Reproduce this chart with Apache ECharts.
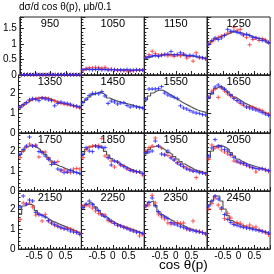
<!DOCTYPE html>
<html><head><meta charset="utf-8">
<script src="https://cdn.jsdelivr.net/npm/echarts@6/dist/echarts.min.js"></script>
<style>html,body{margin:0;padding:0;background:#fff}#c{width:274px;height:274px}</style>
</head><body><div id="c"></div>
<script>
// ---- data ----
const energies = [950,1050,1150,1250,1350,1450,1550,1650,1750,1850,1950,2050,2150,2250,2350,2450];
const binCenters = [-0.95,-0.85,-0.75,-0.65,-0.55,-0.45,-0.35,-0.25,-0.15,-0.05,0.05,0.15,0.25,0.35,0.45,0.55,0.65,0.75,0.85,0.95];
const binEdges = [-1,-0.9,-0.8,-0.7,-0.6,-0.5,-0.4,-0.3,-0.2,-0.1,0,0.1,0.2,0.3,0.4,0.5,0.6,0.7,0.8,0.9,1];
const xTickLabels = ['-0.5','0','0.5'];
const yMaxRow = [1.88, 2.9, 2.9, 2.9];
const yIntervalRow = [0.5, 1, 1, 1];

const h950 = [0.01,0.01,0.01,0.01,0.01,0.01,0.01,0.01,0.01,0.01,0.01,0.01,0.01,0.01,0.01,0.01,0.01,0.01,0.01,0.01];
const b950 = [0.01,0.01,0.02,0.01,0.01,0.02,0.01,0.01,0.01,0.02,0.01,0.01,0.01,0.01,0.02,0.01,0.01,0.01,0.01,0.01];
const r950 = [0.01,0.01,0.01,0.01,0.01,0.01,0.01,0.01,0.01,0.01,0.01,0.01,0.01,0.01,0.01,0.01,0.01,0.01,0.01,0.01];

const h1050 = [0.17,0.18,0.18,0.18,0.18,0.18,0.18,0.18,0.17,0.17,0.17,0.17,0.17,0.17,0.16,0.16,0.16,0.16,0.16,0.16];
const b1050 = [0.17,0.19,0.18,0.17,0.18,0.19,0.17,0.18,0.16,0.18,0.17,0.16,0.17,0.15,0.18,0.16,0.15,0.17,0.16,0.16];
const r1050 = [0.16,0.21,0.24,0.23,0.25,0.24,0.22,0.25,0.19,0.18,0.17,0.15,0.14,0.15,0.13,0.12,0.14,0.15,0.16,0.16];

const h1150 = [0.55,0.58,0.62,0.64,0.64,0.65,0.66,0.66,0.66,0.66,0.65,0.64,0.63,0.62,0.62,0.60,0.58,0.57,0.55,0.52];
const b1150 = [0.56,0.60,0.62,0.63,0.60,0.64,0.66,0.68,0.76,0.65,0.66,0.72,0.67,0.62,0.64,0.63,0.61,0.58,0.56,0.53];
const r1150 = [0.58,0.66,0.77,0.70,0.64,0.65,0.67,0.62,0.64,0.60,0.66,0.62,0.68,0.55,0.60,0.45,0.72,0.56,0.55,0.52];

const h1250 = [1.01,1.10,1.18,1.24,1.27,1.31,1.34,1.39,1.41,1.39,1.37,1.33,1.31,1.26,1.23,1.20,1.18,1.16,1.10,1.03];
const b1250 = [0.99,1.12,1.20,1.15,1.20,1.28,1.48,1.42,1.42,1.38,1.35,1.30,1.32,1.28,1.22,1.20,1.18,1.12,1.10,1.05];
const r1250 = [1.00,1.08,1.15,1.22,1.26,1.30,1.36,1.40,1.55,1.45,1.48,1.30,1.22,0.98,1.15,1.20,1.12,1.18,1.14,1.06];

const h1350 = [1.27,1.40,1.52,1.62,1.70,1.74,1.76,1.77,1.76,1.72,1.66,1.58,1.52,1.48,1.45,1.41,1.38,1.36,1.32,1.27];
const b1350 = [1.30,1.42,1.52,1.66,1.72,1.68,1.62,1.75,1.70,1.66,1.62,1.36,1.48,1.55,1.50,1.48,1.44,1.36,1.34,1.30];
const r1350 = [1.28,1.38,1.50,1.62,1.68,1.72,1.74,1.76,1.75,1.72,1.66,1.60,1.55,1.48,1.45,1.42,1.40,1.36,1.30,1.25];

const h1450 = [1.53,1.66,1.80,1.92,2.00,2.03,1.98,1.88,1.75,1.68,1.62,1.57,1.52,1.48,1.45,1.41,1.36,1.32,1.28,1.24];
const b1450 = [1.52,1.70,1.88,1.98,1.98,1.96,2.07,1.85,1.48,1.60,1.55,1.45,1.50,1.52,1.38,1.30,1.35,1.30,1.27,1.24];
const r1450 = [];

const h1550 = [1.65,1.85,2.00,2.10,2.15,2.13,2.05,1.95,1.85,1.75,1.65,1.55,1.46,1.38,1.30,1.22,1.15,1.10,1.06,1.02];
const b1550 = [1.70,2.20,2.20,2.20,2.22,2.32,2.00,1.90,1.85,1.78,1.72,1.36,1.25,1.20,1.12,1.05,1.00,0.98,0.92,0.90];
const r1550 = [];

const h1650 = [1.73,1.95,2.22,2.32,2.30,2.18,2.05,1.92,1.80,1.70,1.60,1.50,1.42,1.35,1.28,1.20,1.12,1.05,0.98,0.90];
const b1650 = [1.78,2.00,2.30,2.40,2.30,2.20,2.05,1.88,1.72,1.62,1.55,1.45,1.30,1.25,1.20,1.15,1.10,1.02,0.95,0.88];
const r1650 = [1.80,2.10,2.20,1.78,2.25,2.10,1.95,1.85,1.75,1.62,1.48,1.38,1.30,1.32,1.28,1.22,1.18,1.12,1.00,0.95];

const h1750 = [1.83,2.00,2.20,2.30,2.25,2.17,2.08,1.97,1.83,1.67,1.50,1.33,1.25,1.20,1.12,1.07,1.02,0.95,0.90,0.83];
const b1750 = [1.83,2.08,2.25,2.70,2.25,2.25,1.97,1.92,1.75,1.58,1.33,1.42,1.10,1.05,0.92,0.95,1.03,0.95,0.92,0.88];
const r1750 = [1.67,2.00,2.20,2.35,2.25,2.30,1.70,1.95,1.95,1.63,1.45,1.42,1.47,1.00,1.05,0.95,0.92,1.10,1.13,1.10];

const h1850 = [1.83,2.08,2.20,2.25,2.25,2.22,2.13,1.98,1.80,1.62,1.50,1.40,1.30,1.22,1.15,1.08,1.02,0.95,0.90,0.85];
const b1850 = [1.83,2.17,2.00,1.97,2.25,2.17,2.20,2.17,1.67,1.30,1.50,1.45,1.33,1.22,1.15,1.03,1.00,0.97,0.95,0.87];
const r1850 = [1.67,2.08,2.20,2.25,2.25,2.28,2.63,1.75,1.67,1.50,1.20,1.45,1.28,1.25,1.10,1.05,1.00,0.95,0.97,0.80];

const h1950 = [1.87,2.08,2.20,2.25,2.20,2.12,2.03,1.92,1.83,1.72,1.60,1.47,1.35,1.25,1.17,1.07,1.02,0.98,0.93,0.90];
const b1950 = [1.92,1.95,2.00,2.50,2.25,1.85,1.80,2.00,1.65,1.55,1.40,1.30,1.22,1.10,1.05,1.00,0.98,0.92,0.90,0.87];
const r1950 = [2.00,2.17,2.25,2.65,2.25,2.15,1.83,1.78,1.70,1.55,1.42,1.33,1.20,1.15,1.08,1.00,0.67,0.95,0.92,0.85];

const h2050 = [1.65,2.00,2.23,2.28,2.25,2.18,2.08,1.92,1.75,1.60,1.50,1.42,1.35,1.30,1.25,1.20,1.15,1.10,1.05,1.00];
const b2050 = [1.75,2.15,2.57,2.25,2.22,2.08,2.00,1.83,1.67,1.50,1.42,1.38,1.30,1.25,1.17,1.12,1.10,1.12,1.05,1.02];
const r2050 = [1.58,2.30,2.15,2.18,2.05,1.95,1.85,1.78,1.50,1.45,1.40,1.35,1.28,1.20,1.15,0.95,1.12,1.10,1.08,0.98];

const h2150 = [1.73,2.15,2.23,2.23,2.15,1.92,1.75,1.65,1.57,1.48,1.38,1.32,1.25,1.18,1.12,1.05,0.98,0.92,0.85,0.75];
const b2150 = [2.10,2.65,2.25,2.45,2.40,1.83,1.73,1.67,1.60,1.42,1.30,1.22,1.13,1.08,1.02,0.98,0.90,0.85,0.82,0.73];
const r2150 = [1.48,2.30,2.25,2.30,2.10,1.70,1.73,1.40,1.73,1.40,1.30,1.18,1.15,1.05,1.02,1.05,1.00,0.92,0.85,0.78];

const h2250 = [2.05,2.22,2.32,2.25,2.10,1.92,1.75,1.60,1.50,1.38,1.30,1.22,1.15,1.10,1.05,1.00,0.95,0.88,0.82,0.73];
const b2250 = [2.08,2.25,2.40,2.22,2.05,1.92,1.70,1.63,1.50,1.40,1.28,1.20,1.15,1.08,1.02,0.95,0.90,0.85,0.82,0.78];
const r2250 = [2.15,2.20,2.15,2.05,1.90,1.78,1.72,1.70,1.42,1.35,1.28,1.18,1.15,1.10,1.05,0.98,0.92,0.85,0.65,0.73];

const h2350 = [2.18,2.35,2.40,2.18,1.85,1.70,1.60,1.50,1.42,1.33,1.27,1.20,1.13,1.05,1.00,0.95,0.90,0.85,0.80,0.75];
const b2350 = [2.15,2.32,2.55,2.15,1.87,1.72,1.60,1.52,1.32,1.25,1.20,1.12,1.07,1.02,0.95,0.92,0.88,0.85,0.82,0.75];
const r2350 = [2.15,2.20,2.68,2.30,1.75,1.60,1.50,1.30,1.25,1.30,1.32,1.28,1.30,1.00,0.98,1.40,0.90,0.88,0.82,0.75];

const h2450 = [2.20,2.40,2.65,2.65,2.40,2.00,1.67,1.42,1.33,1.25,1.20,1.15,1.10,1.05,1.00,0.97,0.93,0.88,0.82,0.75];
const b2450 = [2.15,2.40,2.65,2.50,2.05,1.72,1.48,1.32,1.22,1.18,1.12,1.08,1.05,1.02,0.98,0.95,0.92,0.88,0.85,0.80];
const r2450 = [2.00,2.28,2.55,2.20,1.98,1.52,1.78,1.55,1.25,1.32,1.28,1.15,1.10,1.20,1.08,1.10,0.95,0.88,0.82,0.72];

const errBlue = [0.01,0.02,0.03,0.04,0.05,0.05,0.05,0.06,0.06,0.06,0.07,0.07,0.07,0.07,0.08,0.08];
const errRed  = [0.01,0.03,0.05,0.06,0.06,0.06,0.06,0.09,0.10,0.10,0.10,0.10,0.11,0.11,0.12,0.12];

const histList = [h950,h1050,h1150,h1250,h1350,h1450,h1550,h1650,h1750,h1850,h1950,h2050,h2150,h2250,h2350,h2450];
const blueList = [b950,b1050,b1150,b1250,b1350,b1450,b1550,b1650,b1750,b1850,b1950,b2050,b2150,b2250,b2350,b2450];
const redList  = [r950,r1050,r1150,r1250,r1350,r1450,r1550,r1650,r1750,r1850,r1950,r2050,r2150,r2250,r2350,r2450];

// ---- layout ----
const L0 = 18.5, T0 = 17, PW = 62.9, PH = 58;
const FONT = 'Liberation Sans, Arial, sans-serif';

const grids = [], xAxes = [], yAxes = [], series = [], graphics = [];

function crossRenderer(color, err, opacity) {
  return function (params, api) {
    const x = api.value(0), y = api.value(1);
    const c = api.coord([x, y]);
    const t = api.coord([x, y + err]);
    const b = api.coord([x, y - err]);
    const half = Math.max(2, (b[1] - t[1]) / 2);
    return {
      type: 'group',
      children: [
        { type: 'line', shape: { x1: c[0] - 2.2, y1: c[1], x2: c[0] + 2.2, y2: c[1] }, style: { stroke: color, lineWidth: 1, opacity: opacity } },
        { type: 'line', shape: { x1: c[0], y1: c[1] - half, x2: c[0], y2: c[1] + half }, style: { stroke: color, lineWidth: 1, opacity: opacity } }
      ]
    };
  };
}

for (let i = 0; i < 16; i++) {
  const row = Math.floor(i / 4), col = i % 4;
  grids.push({ left: L0 + col * PW, top: T0 + row * PH, width: PW, height: PH, show: true, borderColor: '#222', borderWidth: 1, backgroundColor: 'transparent' });
  xAxes.push({
    type: 'value', gridIndex: i, min: -1, max: 1, interval: 0.5,
    axisLine: { show: true, onZero: false, lineStyle: { color: '#222', width: 1 } },
    axisTick: { show: true, inside: true, length: 4, lineStyle: { color: '#222' } },
    minorTick: { show: true, splitNumber: 5, length: 2, lineStyle: { color: '#222' } },
    splitLine: { show: false },
    axisLabel: {
      show: row === 3, showMinLabel: false, showMaxLabel: false, margin: 2,
      fontSize: 10, fontFamily: FONT, color: '#000',
      formatter: function (v) { const k = Math.round((v + 0.5) / 0.5); return xTickLabels[k] !== undefined ? xTickLabels[k] : ''; }
    }
  });
  yAxes.push({
    type: 'value', gridIndex: i, min: 0, max: yMaxRow[row], interval: yIntervalRow[row],
    axisLine: { show: true, onZero: false, lineStyle: { color: '#222', width: 1 } },
    axisTick: { show: true, inside: true, length: 4, lineStyle: { color: '#222' } },
    minorTick: { show: true, splitNumber: 5, length: 2, lineStyle: { color: '#222' } },
    splitLine: { show: false },
    axisLabel: { show: col === 0, showMaxLabel: false, margin: 3, fontSize: 10, fontFamily: FONT, color: '#000' }
  });

  const h = histList[i];
  const stepData = binEdges.map((e, k) => [e, h[Math.min(k, h.length - 1)]]);
  series.push({
    type: 'line', xAxisIndex: i, yAxisIndex: i, step: 'end', symbol: 'none', silent: true,
    data: stepData, lineStyle: { color: '#555', width: 1.2 }, z: 2, animation: false
  });
  const r = redList[i];
  if (r.length) {
    series.push({
      type: 'custom', xAxisIndex: i, yAxisIndex: i, z: 3, animation: false, silent: true,
      renderItem: crossRenderer('#ff2a2a', errRed[i], 0.75),
      data: r.map((v, k) => [binCenters[k], v])
    });
  }
  const b = blueList[i];
  series.push({
    type: 'custom', xAxisIndex: i, yAxisIndex: i, z: 4, animation: false, silent: true,
    renderItem: crossRenderer('#2a2aff', errBlue[i], 0.85),
    data: b.map((v, k) => [binCenters[k], v])
  });

  graphics.push({
    type: 'text', x: L0 + col * PW + PW / 2, y: T0 + row * PH + 1,
    style: { text: String(energies[i]), align: 'center', verticalAlign: 'top', fontSize: 11, fontFamily: FONT, fill: '#000' }, z: 10
  });
}

graphics.push({ type: 'text', x: 19, y: 2, style: { text: 'dσ/d cos θ(p), μb/0.1', fontSize: 10, fontFamily: FONT, fill: '#000' } });
graphics.push({ type: 'text', x: 159, y: 258, style: { text: 'cos θ(p)', fontSize: 13.5, fontFamily: FONT, fill: '#000' } });

const chart = echarts.init(document.getElementById('c'), null, { renderer: 'canvas' });
chart.setOption({
  animation: false,
  backgroundColor: '#fff',
  grid: grids, xAxis: xAxes, yAxis: yAxes, series: series, graphic: graphics
});
</script></body></html>
